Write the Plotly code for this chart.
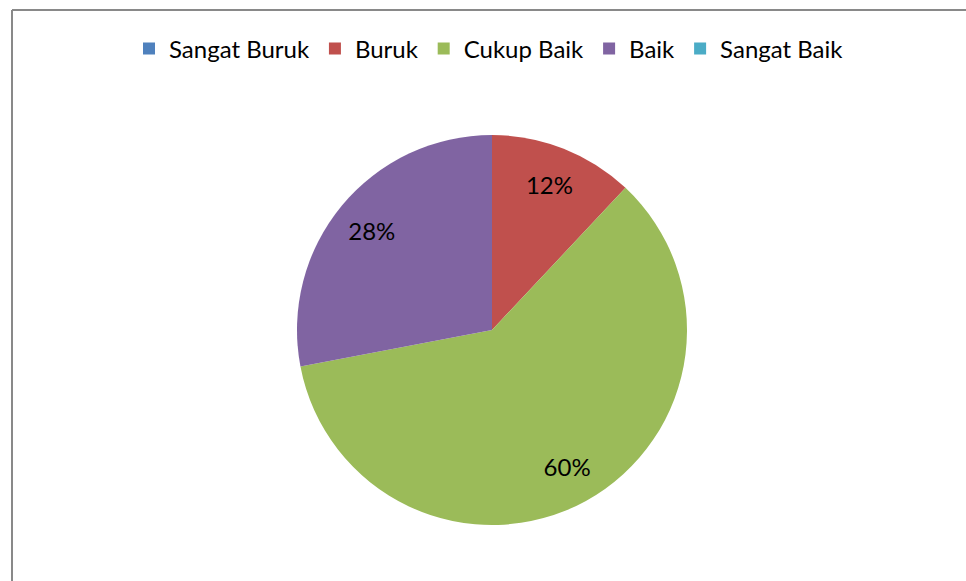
import plotly.graph_objects as go

categories = ["Sangat Buruk", "Buruk", "Cukup Baik", "Baik", "Sangat Baik"]
values = [0, 12, 60, 28, 0]
colors = ["#4F81BD", "#C0504D", "#9BBB59", "#8064A2", "#4BACC6"]

labels_text = [f"{v}%" if v > 0 else "" for v in values]

FONT = "Lato, Carlito, sans-serif"
W, H = 966, 581
ml, mt = 12, 10
pw, ph = W - ml, H - mt
cx, cy, r = 492, 330, 195   # pie centre / radius in figure px

dom = dict(
    x=[(cx - r - ml) / pw, (cx + r - ml) / pw],
    y=[1 - (cy + r - mt) / ph, 1 - (cy - r - mt) / ph],
)

fig = go.Figure()
fig.add_trace(go.Pie(
    labels=categories,
    values=values,
    sort=False,
    direction="clockwise",
    rotation=0,
    marker=dict(colors=colors, line=dict(width=0)),
    textinfo="none",
    domain=dom,
    hoverinfo="label+percent",
))
# transparent ring carrying the percentage labels (places them at ~0.8 r)
fig.add_trace(go.Pie(
    labels=categories,
    values=values,
    sort=False,
    direction="clockwise",
    rotation=0,
    hole=0.6,
    marker=dict(colors=["rgba(0,0,0,0)"] * len(values), line=dict(width=0)),
    text=labels_text,
    textinfo="text",
    textposition="inside",
    insidetextorientation="horizontal",
    textfont=dict(family=FONT, size=24, color="black"),
    domain=dom,
    showlegend=False,
    hoverinfo="skip",
))

frame = dict(color="#898989", width=2)
fig.update_layout(
    width=W, height=H,
    margin=dict(l=ml, r=0, t=mt, b=0),
    paper_bgcolor="white",
    plot_bgcolor="white",
    showlegend=True,
    legend=dict(
        orientation="h",
        x=0.5, xanchor="center",
        y=1 - (49 - mt) / ph, yanchor="middle",
        font=dict(family=FONT, size=24, color="black"),
        itemclick=False,
    ),
    shapes=[
        dict(type="line", xref="paper", yref="paper",
             x0=0, x1=0, y0=-0.05, y1=1, line=frame, layer="below"),
        dict(type="line", xref="paper", yref="paper",
             x0=0, x1=1.05, y0=1, y1=1, line=frame, layer="below"),
    ],
)

fig.write_html(
    "out.html",
    config={"displayModeBar": False},
    post_script="document.body.style.margin='0';document.body.style.overflow='hidden';",
)
